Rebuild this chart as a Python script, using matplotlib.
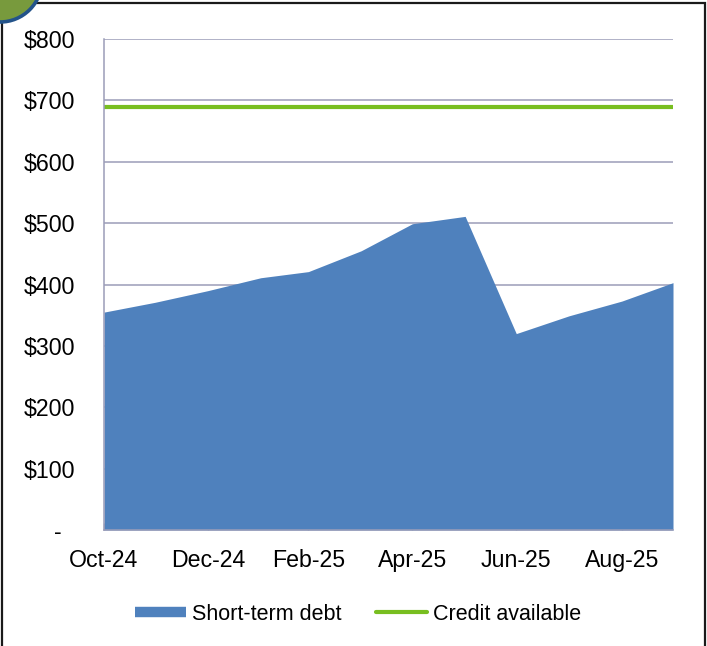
import numpy as np
import pandas as pd
import matplotlib
matplotlib.use("Agg")
import matplotlib.pyplot as plt
import matplotlib.dates as mdates
from matplotlib.patches import Rectangle, Ellipse
from matplotlib.lines import Line2D

# month-end dates, as in the source spreadsheet
months = ["2024-10-31", "2024-11-30", "2024-12-31", "2025-01-31", "2025-02-28", "2025-03-31",
          "2025-04-30", "2025-05-31", "2025-06-30", "2025-07-31", "2025-08-31", "2025-09-30"]
short_term_debt = [355, 371, 390, 411, 421, 455, 499, 511, 320, 349, 373, 403]
credit_available = [690] * len(months)
y_ticks = [0, 100, 200, 300, 400, 500, 600, 700, 800]
y_labels = ["-  ", "$100", "$200", "$300", "$400", "$500", "$600", "$700", "$800"]

BLUE = "#4f81bd"
GREEN = "#78be20"
GRID = "#9b9db8"

plt.rcParams["font.family"] = ["Liberation Sans", "DejaVu Sans"]

dates = pd.to_datetime(months)

fig = plt.figure(figsize=(7.07, 6.46), dpi=100)
ax = fig.add_axes([104 / 707, 1 - 530 / 646, (673 - 104) / 707, (530 - 39) / 646])

ax.fill_between(dates, 0, short_term_debt, color=BLUE, lw=0, zorder=2)
ax.plot(dates, credit_available, color=GREEN, lw=3, solid_capstyle="butt", zorder=3)

ax.set_xlim(dates[0], dates[-1])
ax.set_ylim(0, 800)
ax.set_yticks(y_ticks)
ax.set_yticklabels(y_labels)
ax.yaxis.grid(True, color=GRID, lw=1.1, zorder=0)
ax.set_axisbelow(True)

ax.set_xticks(dates[::2])
ax.xaxis.set_major_formatter(mdates.DateFormatter("%b-%y"))

for s in ["top", "right"]:
    ax.spines[s].set_visible(False)
for s in ["left", "bottom"]:
    ax.spines[s].set_color(GRID)
    ax.spines[s].set_linewidth(1.1)
    ax.spines[s].set_zorder(4)

ax.tick_params(axis="x", direction="in", length=5, width=1, color=GRID,
               labelsize=16.7, pad=13.5)
ax.tick_params(axis="y", length=0, labelsize=16.7, pad=21)

h1 = Line2D([], [], color=BLUE, lw=7.5, solid_capstyle="butt")
h2 = Line2D([], [], color=GREEN, lw=3, solid_capstyle="round")
fig.legend([h1, h2], ["Short-term debt", "Credit available"], loc="center",
           bbox_to_anchor=(0.506, 1 - 614 / 646), ncol=2, frameon=False,
           fontsize=15.5, handlelength=2.4, handletextpad=0.25, columnspacing=1.6)

# outer frame and corner badge
fig.patches.append(Rectangle((2 / 707, -0.05), 703 / 707, 1.05 - 3 / 646,
                             transform=fig.transFigure, fill=False,
                             edgecolor="#1a1a1a", lw=1.6, zorder=5))
fig.patches.append(Ellipse((0, 1 + 20 / 646), 84 / 707, 84 / 646,
                           transform=fig.transFigure, facecolor="#789a3d",
                           edgecolor="#23538a", lw=2.6, zorder=6))

fig.savefig("out.png", dpi=100)
